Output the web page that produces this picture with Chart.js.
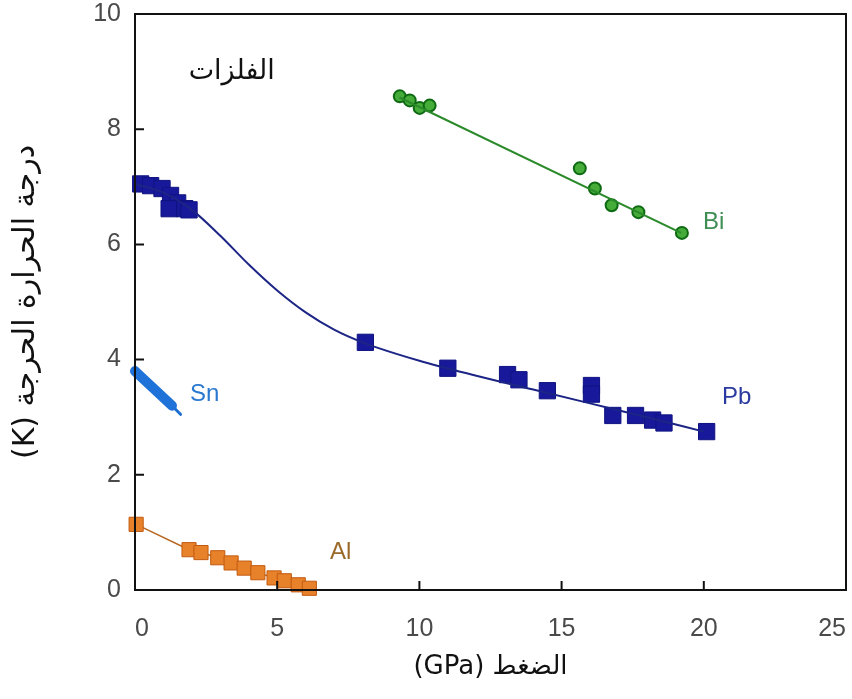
<!DOCTYPE html>
<html>
<head>
<meta charset="utf-8">
<script src="https://cdn.jsdelivr.net/npm/chart.js@4/dist/chart.umd.min.js"></script>
<style>
  html, body { margin: 0; padding: 0; background: #fff; }
  #wrap { width: 852px; height: 699px; }
</style>
</head>
<body>
<div id="wrap"><canvas id="chart" dir="rtl"></canvas></div>
<script>
// values: pressure (GPa) and critical temperature (K)
const pbX = [0.2, 0.55, 0.95, 1.25, 1.5, 1.2, 1.75, 1.9, 8.1, 11.0, 13.1, 13.5, 14.5, 16.05, 16.05, 16.8, 17.6, 18.2, 18.6, 20.1];
const pbY = [7.05, 7.02, 6.97, 6.85, 6.72, 6.62, 6.62, 6.6, 4.3, 3.85, 3.74, 3.65, 3.46, 3.55, 3.4, 3.03, 3.03, 2.95, 2.9, 2.75];
const pbFitX = [0, 1, 2, 3, 4, 5, 6, 7, 8, 10, 12, 14, 16, 18, 20];
const pbFitY = [7.05, 6.9, 6.6, 6.15, 5.65, 5.2, 4.82, 4.52, 4.3, 3.98, 3.72, 3.48, 3.24, 3.0, 2.75];

const biX = [9.31, 9.66, 10.01, 10.36, 15.64, 16.17, 16.76, 17.7, 19.23];
const biY = [8.57, 8.5, 8.37, 8.41, 7.32, 6.97, 6.68, 6.56, 6.2];
const biFitX = [9.3, 19.2];
const biFitY = [8.55, 6.2];

const alX = [0.04, 1.9, 2.32, 2.91, 3.38, 3.84, 4.32, 4.89, 5.25, 5.74, 6.13];
const alY = [1.14, 0.7, 0.65, 0.56, 0.47, 0.38, 0.3, 0.21, 0.16, 0.09, 0.03];

const snX = [0, 1.3];
const snY = [3.8, 3.2];
const snTailX = [1.3, 1.6];
const snTailY = [3.2, 3.05];

const xTicks = [0, 5, 10, 15, 20, 25];
const yTicks = [0, 2, 4, 6, 8, 10];

const pts = (xs, ys) => xs.map((x, i) => ({ x: x, y: ys[i] }));

const labels = [
    { text: 'Bi', x: 19.97, y: 6.39, color: '#3f8f55' },
    { text: 'Pb', x: 20.64, y: 3.35, color: '#2b3aa0' },
    { text: 'Sn', x: 1.93, y: 3.39, color: '#2a78d0' },
    { text: 'Al', x: 6.86, y: 0.66, color: '#9a6a2a' }
];

const frame = {
    id: 'frame',
    afterDraw(chart) {
        const ctx = chart.ctx;
        const a = chart.chartArea;
        const xs = chart.scales.x, ys = chart.scales.y;
        ctx.save();
        ctx.strokeStyle = '#111';
        ctx.lineWidth = 2;
        ctx.strokeRect(a.left, a.top, a.right - a.left, a.bottom - a.top);
        ctx.beginPath();
        xTicks.forEach(v => {
            const px = xs.getPixelForValue(v);
            ctx.moveTo(px, a.bottom);
            ctx.lineTo(px, a.bottom - 9);
        });
        yTicks.forEach(v => {
            const py = ys.getPixelForValue(v);
            ctx.moveTo(a.left, py);
            ctx.lineTo(a.left + 9, py);
        });
        ctx.stroke();

        ctx.direction = 'ltr';
        ctx.font = '24px "Liberation Sans", Arial, sans-serif';
        ctx.textAlign = 'left';
        ctx.textBaseline = 'middle';
        labels.forEach(l => {
            ctx.fillStyle = l.color;
            ctx.fillText(l.text, xs.getPixelForValue(l.x), ys.getPixelForValue(l.y));
        });

        ctx.direction = 'rtl';
        ctx.fillStyle = '#111';
        ctx.font = '27px "DejaVu Sans", sans-serif';
        ctx.textAlign = 'center';
        ctx.fillText('الفلزات', xs.getPixelForValue(3.4), ys.getPixelForValue(9.0));
        ctx.restore();
    }
};

const tickFont = { size: 25, family: '"Liberation Sans", Arial, sans-serif' };

new Chart(document.getElementById('chart'), {
    type: 'scatter',
    data: {
        datasets: [
            {
                label: 'Pb fit', data: pts(pbFitX, pbFitY), showLine: true, clip: false,
                borderColor: '#1c2585', borderWidth: 2, pointRadius: 0,
                cubicInterpolationMode: 'monotone'
            },
            {
                label: 'Pb', data: pts(pbX, pbY), clip: false,
                pointStyle: 'rect', pointRadius: 11.5, pointBackgroundColor: '#17199a',
                pointBorderColor: '#0f1280', pointBorderWidth: 1
            },
            {
                label: 'Bi fit', data: pts(biFitX, biFitY), showLine: true, clip: false,
                borderColor: '#2a8a2a', borderWidth: 2, pointRadius: 0
            },
            {
                label: 'Bi', data: pts(biX, biY), clip: false,
                pointStyle: 'circle', pointRadius: 6, pointBackgroundColor: '#45ac3a',
                pointBorderColor: '#0e6a12', pointBorderWidth: 2
            },
            {
                label: 'Al', data: pts(alX, alY), showLine: true, clip: false,
                borderColor: '#b8661f', borderWidth: 1.5,
                pointStyle: 'rect', pointRadius: 10, pointBackgroundColor: '#e8822a',
                pointBorderColor: '#c25a10', pointBorderWidth: 1
            },
            {
                label: 'Sn', data: pts(snX, snY), showLine: true, clip: false,
                borderColor: '#1f72d8', borderWidth: 10, borderCapStyle: 'round', pointRadius: 0
            },
            {
                label: 'Sn tail', data: pts(snTailX, snTailY), showLine: true, clip: false,
                borderColor: '#1f6fd0', borderWidth: 3, borderCapStyle: 'round', pointRadius: 0
            }
        ]
    },
    options: {
        responsive: true,
        maintainAspectRatio: false,
        animation: false,
        layout: { autoPadding: false, padding: { top: 14, right: 6, left: 0, bottom: 0 } },
        plugins: { legend: { display: false }, tooltip: { enabled: false } },
        scales: {
            x: {
                type: 'linear', min: 0, max: 25,
                afterFit: (s) => { s.height = 109; s.paddingLeft = 0; s.paddingRight = 0; },
                afterBuildTicks: (s) => { s.ticks = xTicks.map(v => ({ value: v })); },
                grid: { display: false, drawTicks: false },
                border: { display: false },
                ticks: { padding: 24, align: 'inner', color: '#4a4a4a', font: tickFont },
                title: {
                    display: true, text: 'الضغط (GPa)', color: '#111',
                    font: { size: 26, family: '"DejaVu Sans", sans-serif' },
                    padding: { top: 0, bottom: 16 }
                }
            },
            y: {
                type: 'linear', min: 0, max: 10,
                afterFit: (s) => { s.width = 135; s.paddingTop = 0; s.paddingBottom = 0; },
                afterBuildTicks: (s) => { s.ticks = yTicks.map(v => ({ value: v })); },
                grid: { display: false, drawTicks: false },
                border: { display: false },
                ticks: { padding: 14, color: '#4a4a4a', font: tickFont },
                title: {
                    display: true, text: 'درجة الحرارة الحرجة (K)', color: '#111',
                    font: { size: 30, family: '"DejaVu Sans", sans-serif' },
                    padding: { top: 8, bottom: 0 }
                }
            }
        }
    },
    plugins: [frame]
});
</script>
</body>
</html>
